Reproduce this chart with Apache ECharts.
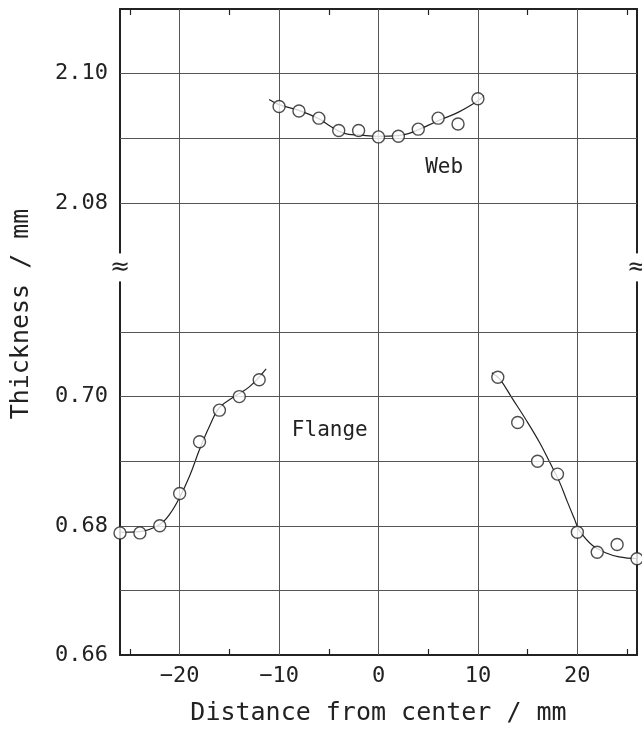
<!DOCTYPE html>
<html><head><meta charset="utf-8">
<script src="https://cdn.jsdelivr.net/npm/echarts@6/dist/echarts.min.js"></script>
<style>html,body{margin:0;padding:0;background:#fff}#c{width:642px;height:730px}</style>
</head><body><div id="c"></div>
<script>
// ---- axis ticks / labels ----
const xMin = -26, xMax = 26;
const xTickLabels = [-20, -10, 0, 10, 20];
const xMinorTicks = [-25, -15, -5, 5, 15, 25];
const yLowerLabels = [0.66, 0.68, 0.70];
const yUpperLabels = [2.08, 2.10];
const yLowerGrid = [0.67, 0.68, 0.69, 0.70, 0.71];
const yUpperGrid = [2.08, 2.09, 2.10];
const BREAK_OFFSET = 1.35;      // upper (web) values are drawn shifted down by this amount
const yMin = 0.66, yMax = 0.76, yBreak = 0.72;

// ---- Web (measured points + fitted curve) ----
const webX = [-10, -8, -6, -4, -2, 0, 2, 4, 6, 8, 10];
const webY = [2.0949, 2.0942, 2.0931, 2.0912, 2.0912, 2.0902, 2.0903, 2.0914, 2.0931, 2.0922, 2.0961];
const webFitX = [-11, -10, -8, -6, -5, -4, -3, -2, 0, 2, 3, 4, 6, 8, 10, 10.6];
const webFitY = [2.0960, 2.0952, 2.0943, 2.0930, 2.0920, 2.0911, 2.0906, 2.0905, 2.0903, 2.0904, 2.0907, 2.0913, 2.0927, 2.0940, 2.0958, 2.0966];

// ---- Flange, left side ----
const flangeLX = [-26, -24, -22, -20, -18, -16, -14, -12];
const flangeLY = [0.6789, 0.6789, 0.6800, 0.6850, 0.6930, 0.6979, 0.7000, 0.7026];
const flangeLFitX = [-26, -24, -22, -21, -20, -19, -18, -17, -16, -14.5, -13, -11.3];
const flangeLFitY = [0.6790, 0.6791, 0.6802, 0.6818, 0.6844, 0.6877, 0.6918, 0.6954, 0.6983, 0.7000, 0.7015, 0.7043];

// ---- Flange, right side ----
const flangeRX = [12, 14, 16, 18, 20, 22, 24, 26];
const flangeRY = [0.7030, 0.6960, 0.6900, 0.6880, 0.6790, 0.6759, 0.6771, 0.6749];
const flangeRFitX = [11.4, 12.2, 13.5, 14.8, 16.2, 17.2, 18.2, 19, 19.7, 20.2, 21.5, 22.9, 24.2, 26];
const flangeRFitY = [0.7037, 0.7027, 0.6996, 0.6965, 0.6929, 0.6899, 0.6868, 0.6837, 0.6811, 0.6793, 0.6770, 0.6758, 0.6752, 0.6749];

// ---- annotations ----
const webLabel = {text: 'Web', x: 6.6, y: 2.0854};
const flangeLabel = {text: 'Flange', x: -4.9, y: 0.6947};

const FONT = '"DejaVu Sans Mono", monospace';
const INK = '#222';
const GRID = '#555';

const zip = (xs, ys, off) => xs.map((x, i) => [x, +(ys[i] - (off || 0)).toFixed(5)]);

const chart = echarts.init(document.getElementById('c'), null, {renderer: 'canvas'});

const gridLines = []
  .concat(xTickLabels.map(v => ({xAxis: v})))
  .concat(yLowerGrid.map(v => ({yAxis: v})))
  .concat(yUpperGrid.map(v => ({yAxis: +(v - BREAK_OFFSET).toFixed(4)})));

const yLabelValues = yLowerLabels.concat(yUpperLabels.map(v => +(v - BREAK_OFFSET).toFixed(4)));

const circle = {symbol: 'circle', symbolSize: 12, itemStyle: {color: '#fff', borderColor: INK, borderWidth: 1.4}};
const fitStyle = {color: INK, width: 1.2};
const fitLine = {type: 'line', z: 3, smooth: 0.4, showSymbol: false, symbol: 'none', lineStyle: fitStyle};

chart.setOption({
  animation: false,
  backgroundColor: '#fff',
  grid: {left: 120, right: 5, top: 9, bottom: 75, outerBoundsMode: 'none', containLabel: false},
  xAxis: [{
    type: 'value', min: xMin, max: xMax, position: 'bottom',
    name: 'Distance from center / mm', nameLocation: 'middle', nameGap: 46,
    nameTextStyle: {fontFamily: FONT, fontSize: 25, color: INK},
    axisLine: {show: true, onZero: false, lineStyle: {color: INK, width: 2}},
    axisTick: {show: true, inside: true, length: 6, customValues: xMinorTicks, lineStyle: {color: INK, width: 1.2}},
    axisLabel: {customValues: xTickLabels, fontFamily: FONT, fontSize: 22, color: INK, margin: 10,
      formatter: v => (v < 0 ? '\u2212' + Math.abs(v) : String(v))},
    splitLine: {show: false}
  }, {
    type: 'value', min: xMin, max: xMax, position: 'top',
    axisLine: {show: true, onZero: false, lineStyle: {color: INK, width: 2}},
    axisTick: {show: true, inside: true, length: 6, customValues: xMinorTicks, lineStyle: {color: INK, width: 1.2}},
    axisLabel: {show: false}, splitLine: {show: false}
  }],
  yAxis: [{
    type: 'value', min: yMin, max: yMax, position: 'left',
    name: 'Thickness / mm', nameLocation: 'middle', nameGap: 86, nameRotate: 90,
    nameTextStyle: {fontFamily: FONT, fontSize: 25, color: INK, padding: [0, 0, 0, 36]},
    axisLine: {show: true, onZero: false, lineStyle: {color: INK, width: 2}},
    axisTick: {show: false},
    axisLabel: {customValues: yLabelValues, fontFamily: FONT, fontSize: 22, color: INK, margin: 12,
      formatter: v => (v > yBreak ? (v + BREAK_OFFSET).toFixed(2) : v.toFixed(2))},
    splitLine: {show: false}
  }, {
    type: 'value', min: yMin, max: yMax, position: 'right',
    axisLine: {show: true, onZero: false, lineStyle: {color: INK, width: 2}},
    axisTick: {show: false}, axisLabel: {show: false}, splitLine: {show: false}
  }],
  series: [
    {
      name: 'grid', type: 'line', z: 1, data: [[0, 0.70]], showSymbol: false, symbol: 'none',
      lineStyle: {width: 0}, silent: true,
      markLine: {silent: true, symbol: ['none', 'none'], label: {show: false},
        lineStyle: {color: GRID, width: 1, type: 'solid'}, data: gridLines, animation: false}
    },
    Object.assign({name: 'Web fit', data: zip(webFitX, webFitY, BREAK_OFFSET)}, fitLine),
    Object.assign({name: 'Flange left fit', data: zip(flangeLFitX, flangeLFitY)}, fitLine),
    Object.assign({name: 'Flange right fit', data: zip(flangeRFitX, flangeRFitY)}, fitLine),
    Object.assign({name: 'Web', type: 'scatter', z: 5, clip: false, data: zip(webX, webY, BREAK_OFFSET)}, circle),
    Object.assign({name: 'Flange left', type: 'scatter', z: 5, clip: false, data: zip(flangeLX, flangeLY)}, circle),
    Object.assign({name: 'Flange right', type: 'scatter', z: 5, clip: false, data: zip(flangeRX, flangeRY)}, circle)
  ]
});

function px(x, y) { return chart.convertToPixel({xAxisIndex: 0, yAxisIndex: 0}, [x, y]); }
const pL = px(xMin, yBreak), pR = px(xMax, yBreak);
const pW = px(webLabel.x, webLabel.y - BREAK_OFFSET), pF = px(flangeLabel.x, flangeLabel.y);
const breakStyle = {text: '\u2248', fontFamily: '"DejaVu Sans", sans-serif', fontSize: 24, fill: INK,
  align: 'center', verticalAlign: 'middle', backgroundColor: '#fff', padding: [2, 0, 2, 0]};
const noteStyle = {fontFamily: FONT, fontSize: 21, fill: INK, align: 'center', verticalAlign: 'middle'};
chart.setOption({
  graphic: [
    {type: 'text', z: 100, x: pL[0], y: pL[1], style: Object.assign({}, breakStyle)},
    {type: 'text', z: 100, x: pR[0], y: pR[1], style: Object.assign({}, breakStyle)},
    {type: 'text', z: 100, x: pW[0], y: pW[1], style: Object.assign({text: webLabel.text}, noteStyle)},
    {type: 'text', z: 100, x: pF[0], y: pF[1], style: Object.assign({text: flangeLabel.text}, noteStyle)}
  ]
});
</script>
</body></html>
